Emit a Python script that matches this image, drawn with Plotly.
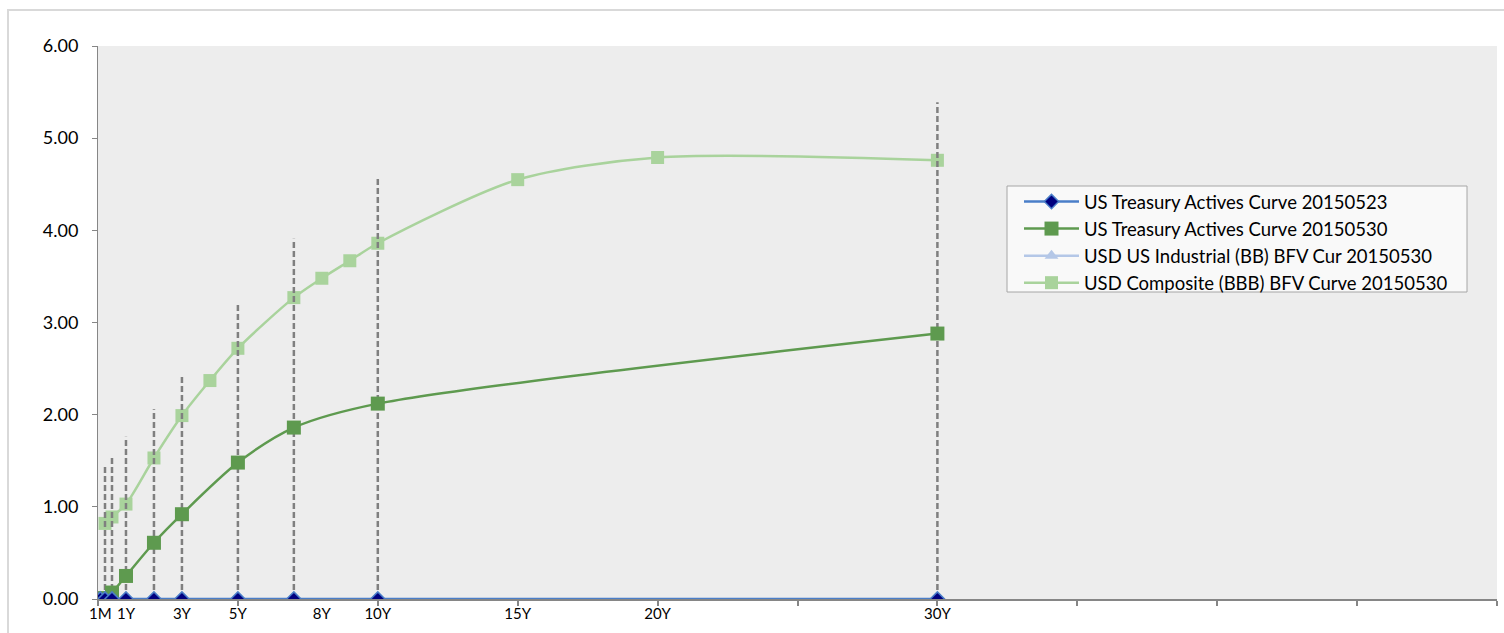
import plotly.graph_objects as go

# Tenors in years
tenor_years = [1 / 12, 0.25, 0.5, 1, 2, 3, 5, 7, 10, 30]
bbb_years = [0.25, 0.5, 1, 2, 3, 4, 5, 7, 8, 9, 10, 15, 20, 30]
drop_years = [0.25, 0.5, 1, 2, 3, 5, 7, 10, 30]

# Yields (%)
ust_20150523 = [0.00, 0.00, 0.00, 0.00, 0.00, 0.00, 0.00, 0.00, 0.00, 0.00]
ust_20150530 = [0.00, 0.01, 0.07, 0.25, 0.61, 0.92, 1.48, 1.86, 2.12, 2.88]
bb_industrial = [None]
bbb_composite = [0.82, 0.89, 1.03, 1.53, 1.99, 2.37, 2.72, 3.27, 3.48, 3.67, 3.86, 4.55, 4.79, 4.76]
drop_tops = [1.45, 1.54, 1.76, 2.06, 2.42, 3.20, 3.91, 4.58, 5.39]

# Axis labels
label_years = [1 / 12, 1, 3, 5, 8, 10, 15, 20, 30]
label_text = ["1M", "1Y", "3Y", "5Y", "8Y", "10Y", "15Y", "20Y", "30Y"]

FONT = "Lato"

# plot-area geometry (pixels) used to place the legend frame in paper coords
PL, PR, PT, PB = 98, 1497, 46, 599
PW, PH = PR - PL, PB - PT


def px_x(x):
    return (x - PL) / PW


def px_y(y):
    return (PB - y) / PH


fig = go.Figure()

fig.add_trace(go.Scatter(
    x=bbb_years, y=bbb_composite, mode="lines+markers",
    name="USD Composite (BBB) BFV Curve 20150530",
    line=dict(color="#A9D39C", width=2.5, shape="spline", smoothing=0.8),
    marker=dict(symbol="square", size=13, color="#A9D39C"),
    legendrank=4,
))

# vertical dashed drop lines
dx, dy = [], []
for t, top in zip(drop_years, drop_tops):
    dx += [t, t, None]
    dy += [0, top, None]
fig.add_trace(go.Scatter(
    x=dx, y=dy, mode="lines", showlegend=False, hoverinfo="skip",
    line=dict(color="#7F7F7F", width=2.5, dash="6px,3px"),
))

fig.add_trace(go.Scatter(
    x=[None], y=bb_industrial, mode="lines+markers",
    name="USD US Industrial (BB) BFV Cur 20150530",
    line=dict(color="#B4C7E7", width=2.5),
    marker=dict(symbol="triangle-up", size=12, color="#B4C7E7"),
    legendrank=3,
))

fig.add_trace(go.Scatter(
    x=tenor_years, y=ust_20150530, mode="lines+markers",
    name="US Treasury Actives Curve 20150530",
    line=dict(color="#5E9A4F", width=2.5, shape="spline", smoothing=0.8),
    marker=dict(symbol="square", size=14, color="#5E9A4F"),
    legendrank=2,
))

fig.add_trace(go.Scatter(
    x=tenor_years, y=ust_20150523, mode="lines+markers",
    name="US Treasury Actives Curve 20150523",
    line=dict(color="#4A7EC8", width=2.5),
    marker=dict(symbol="diamond", size=11, color="#00007F",
                line=dict(color="#4A7EC8", width=1.5)),
    legendrank=1,
))

fig.update_layout(
    width=1504, height=633,
    margin=dict(l=PL, r=1504 - PR, t=PT, b=633 - PB),
    paper_bgcolor="white",
    plot_bgcolor="#EDEDED",
    font=dict(family=FONT, size=16, color="#000000"),
    showlegend=True,
    legend=dict(
        x=px_x(1019), y=px_y(183), xref="paper", yref="paper",
        xanchor="left", yanchor="top",
        bgcolor="rgba(0,0,0,0)", borderwidth=0,
        font=dict(family=FONT, size=18.5, color="#000000"),
        itemwidth=55, tracegroupgap=0,
    ),
    shapes=[
        # outer chart frame
        dict(type="rect", xref="paper", yref="paper",
             x0=px_x(8), x1=px_x(1560), y0=px_y(700), y1=px_y(10),
             line=dict(color="#D9D9D9", width=2), fillcolor="rgba(0,0,0,0)",
             layer="below"),
        # legend frame
        dict(type="rect", xref="paper", yref="paper",
             x0=px_x(1007), x1=px_x(1467), y0=px_y(292), y1=px_y(186),
             line=dict(color="#A6A6A6", width=1), fillcolor="#F9F9F9",
             layer="above"),
    ],
)

fig.update_xaxes(
    range=[0, 50],
    tickvals=label_years, ticktext=label_text,
    ticks="", ticklen=0,
    tickfont=dict(family=FONT, size=15),
    showgrid=False, zeroline=False,
    showline=True, linecolor="#868686", linewidth=1.5,
    minor=dict(dtick=5, tick0=0, ticks="outside", ticklen=5,
               tickcolor="#868686", tickwidth=1.5, showgrid=False),
)

fig.update_yaxes(
    range=[0, 6], dtick=1, tickformat=".2f",
    ticks="outside", ticklen=5, tickcolor="#868686", tickwidth=1,
    ticklabelstandoff=10,
    tickfont=dict(family=FONT, size=18),
    showgrid=False, zeroline=False,
    showline=True, linecolor="#868686", linewidth=1,
)

fig.write_html("out.html")
